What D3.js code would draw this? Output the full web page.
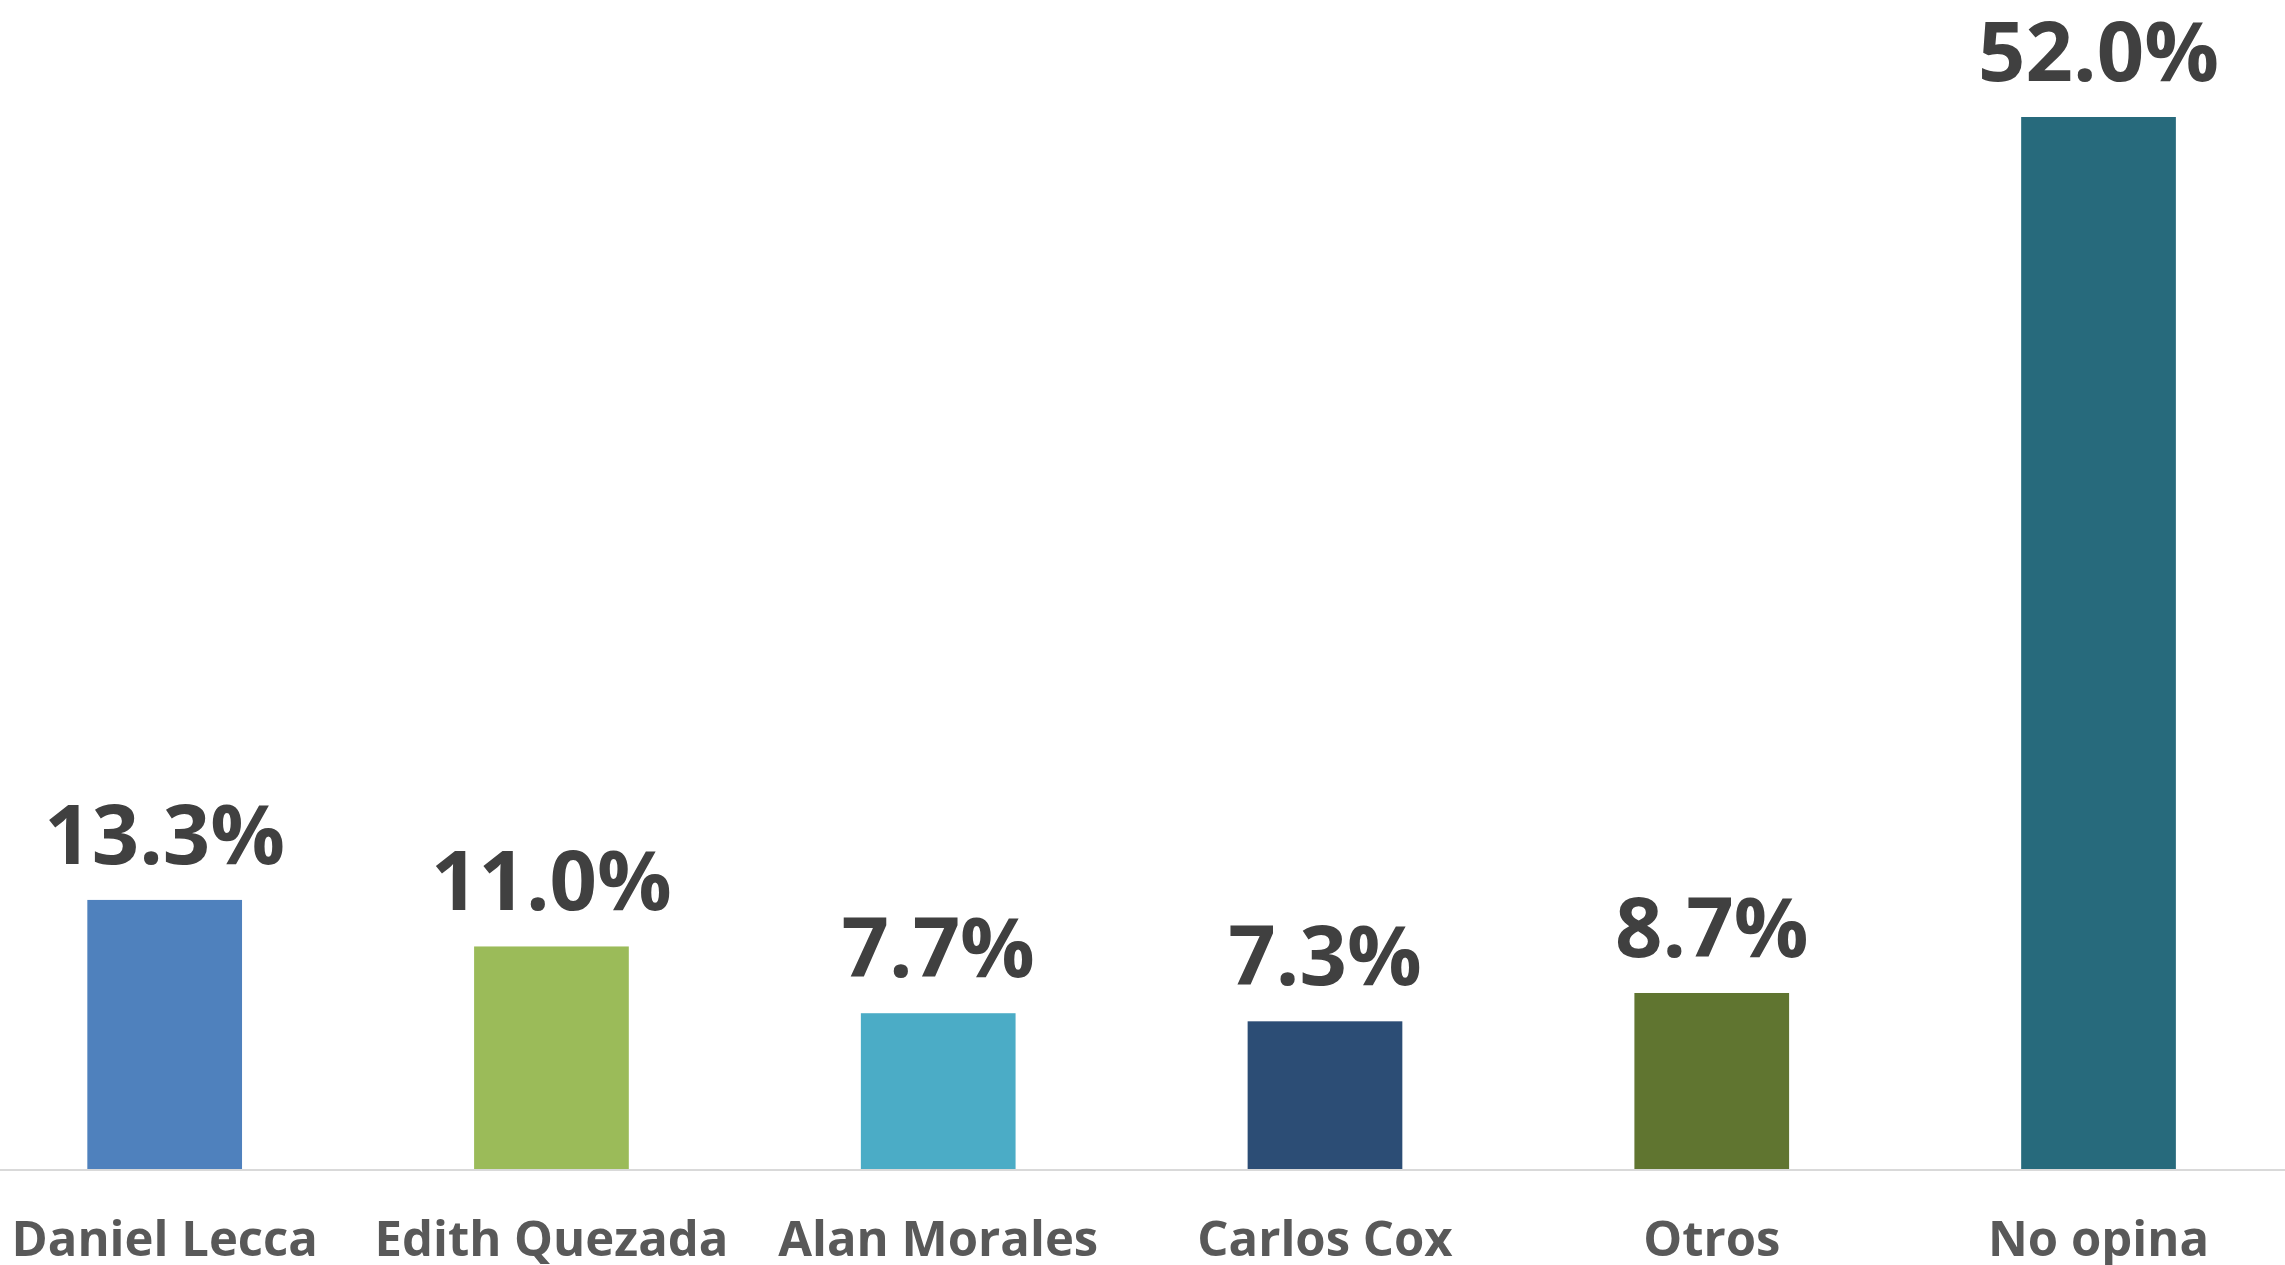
<!DOCTYPE html>
<html>
<head>
<meta charset="utf-8">
<script src="https://cdn.jsdelivr.net/npm/d3@7"></script>
<style>
  html, body { margin: 0; padding: 0; background: #fff; overflow: hidden; }
  svg { display: block; font-family: "Open Sans", "Noto Sans", sans-serif; }
</style>
</head>
<body>
<div id="chart"></div>
<script>
// Chart data
const categories = ["Daniel Lecca", "Edith Quezada", "Alan Morales", "Carlos Cox", "Otros", "No opina"];
const values = [13.3, 11.0, 7.7, 7.3, 8.7, 52.0];
const colors = ["#4F81BD", "#9BBB59", "#4BACC6", "#2C4D75", "#607530", "#276A7C"];

const width = 2285;
const height = 1265;
const baseline = 1169;

const data = categories.map((c, i) => ({ key: c, value: values[i], color: colors[i] }));

// Scales
const x = d3.scaleBand()
    .domain(categories)
    .range([-28.7, 2291.9])
    .paddingInner(0.6)
    .paddingOuter(0.3);
const y = d3.scaleLinear()
    .domain([0, 52])
    .range([baseline, 117]);

const svg = d3.select("#chart").append("svg")
    .attr("width", width)
    .attr("height", height)
    .attr("viewBox", [0, 0, width, height]);

// Bars
svg.append("g")
    .selectAll("rect")
    .data(data)
    .join("rect")
    .attr("x", d => x(d.key))
    .attr("y", d => y(d.value))
    .attr("width", x.bandwidth())
    .attr("height", d => baseline - y(d.value))
    .attr("fill", d => d.color);

// Value labels above bars
svg.append("g")
    .selectAll("text")
    .data(data)
    .join("text")
    .attr("x", d => x(d.key) + x.bandwidth() / 2)
    .attr("y", d => y(d.value) - 36)
    .attr("text-anchor", "middle")
    .attr("fill", "#404040")
    .style("font-size", "83px")
    .style("font-weight", "700")
    .text(d => d.value.toFixed(1) + "%");

// X axis (line only, labels drawn below)
svg.append("g")
    .attr("transform", `translate(0,${baseline})`)
    .call(d3.axisBottom(x).tickSize(0).tickPadding(0))
    .call(g => g.select(".domain").attr("d", `M0,1H${width}`).attr("stroke", "#d9d9d9").attr("stroke-width", 2))
    .call(g => g.selectAll(".tick text")
        .attr("y", 87)
        .attr("dy", 0)
        .attr("fill", "#595959")
        .style("font-family", "\"Open Sans\", sans-serif")
        .style("font-size", "49px")
        .style("font-weight", "700"));
</script>
</body>
</html>
